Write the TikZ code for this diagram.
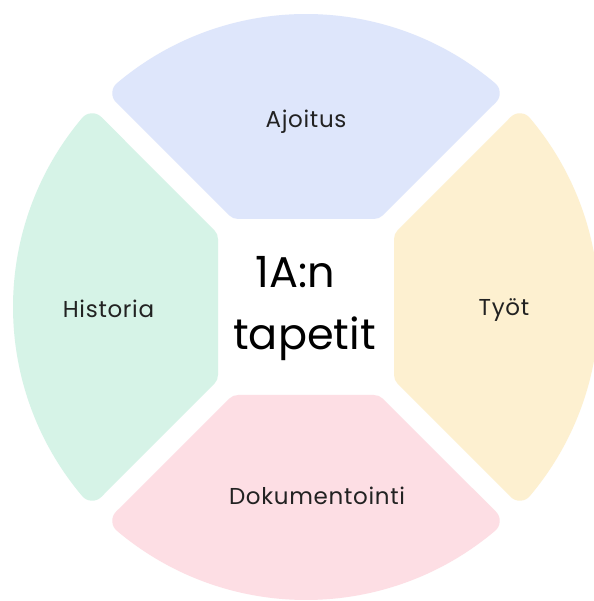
\documentclass[tikz,border=0pt]{standalone}
\usepackage{fontspec}
\setmainfont{Poppins}
\definecolor{segblue}{RGB}{222,230,251}
\definecolor{seggreen}{RGB}{214,243,231}
\definecolor{segyellow}{RGB}{253,240,208}
\definecolor{segpink}{RGB}{253,222,228}
\definecolor{labelgray}{RGB}{34,34,34}
\tikzset{
  segshape/.style={fill=#1, draw=#1, line width=26pt, line join=round},
  seglabel/.style={anchor=base, text=labelgray, inner sep=0pt, font=\fontsize{23}{27}\selectfont\addfontfeature{LetterSpace=3}},
  titlelabel/.style={anchor=base, text=black, inner sep=0pt, font=\fontsize{43}{62}\selectfont},
}
\begin{document}
\begin{tikzpicture}[x=1pt,y=1pt]
\useasboundingbox (0,0) rectangle (593,601);
\fill[white] (0,0) rectangle (593,601);
\coordinate (c) at (306,294);
\foreach \rot/\col in {0/segblue, 90/seggreen, 180/segpink, 270/segyellow}{
  \begin{scope}[shift={(c)}, rotate=\rot]
    \path[segshape=\col] (-67.8,101) -- (130.2:280) arc[start angle=130.2, end angle=49.8, radius=280] -- (67.8,101) -- cycle;
  \end{scope}
}
\node[seglabel] (ajoitus) at (306,473) {Ajoitus};
\node[seglabel] (historia) at (108.5,283) {Historia};
\node[seglabel] (tyot) at (504,285) {Työt};
\node[seglabel] (dokumentointi) at (317,96.5) {Dokumentointi};
\node[titlelabel] (title1) at (295.5,313) {1A:n};
\node[titlelabel] (title2) at (304.5,251) {tapetit};
\end{tikzpicture}
\end{document}
